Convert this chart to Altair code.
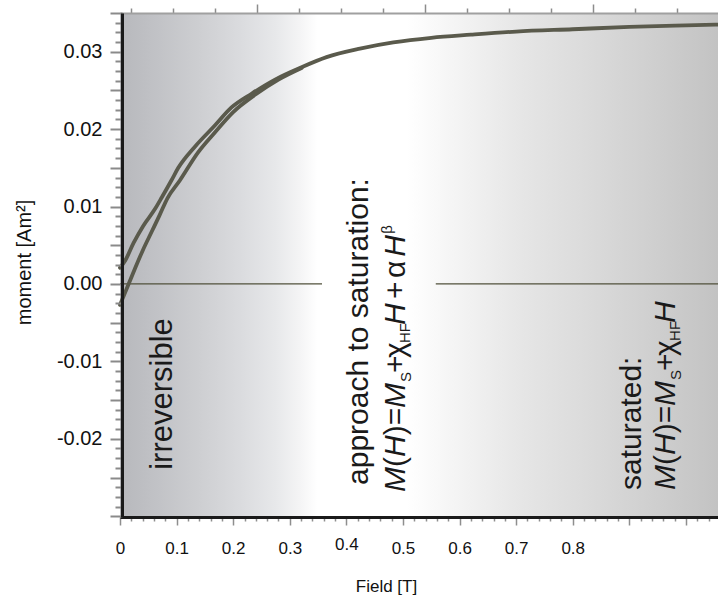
import altair as alt
import pandas as pd

# ---------------- data ----------------
# descending-field branch (upper) and ascending-field branch (lower)
field_upper = [0.0, 0.009, 0.024, 0.041, 0.062, 0.074, 0.091, 0.103, 0.132, 0.168,
               0.197, 0.233, 0.274, 0.321, 0.365, 0.424, 0.483, 0.55, 0.62, 0.70,
               0.80, 0.90, 1.0, 1.0567]
moment_upper = [0.0021, 0.0030, 0.0053, 0.0075, 0.0097, 0.0112, 0.0134, 0.0150, 0.0177, 0.0205,
                0.0228, 0.0246, 0.0264, 0.0280, 0.0293, 0.0304, 0.0312, 0.0318, 0.0322, 0.0326,
                0.0329, 0.0332, 0.0334, 0.0335]
field_lower = [0.0, 0.0147, 0.0265, 0.040, 0.057, 0.070, 0.084, 0.106, 0.138, 0.168,
               0.200, 0.240, 0.280, 0.321]
moment_lower = [-0.0027, -0.0001, 0.0020, 0.0043, 0.0069, 0.0089, 0.0111, 0.0134, 0.0170, 0.0196,
                0.0222, 0.0245, 0.0264, 0.0279]

x_domain = [0.0, 1.0567]
y_domain = [-0.0301, 0.0350]

# zero reference line, interrupted behind the middle annotation
zero_start = [0.0, 0.558]
zero_end = [0.357, 1.0567]

x_ticks = [round(i * 0.02, 2) for i in range(53)]
y_ticks = [round(-0.03 + i * 0.00125, 5) for i in range(53)]
top_ticks = [-0.75 + 0.25 * i for i in range(14)]
top_domain = [-0.8174, 2.743]

# annotation segments: text, field position, moment position, role
ann_text = ["irreversible",
            "approach to saturation:",
            "M", "(", "H", ")=", "M", "S", "+", "χ", "HF", "H", "+", "α", "H", "β",
            "saturated:",
            "M", "(", "H", ")=", "M", "S", "+", "χ", "HF", "H"]
ann_field = [0.0914,
             0.4382,
             0.5036, 0.5036, 0.5036, 0.5036, 0.5036, 0.5142, 0.5036, 0.5036, 0.5124, 0.5036, 0.5036, 0.5036, 0.5036, 0.4806,
             0.9207,
             0.9807, 0.9807, 0.9807, 0.9807, 0.9807, 0.9913, 0.9807, 0.9807, 0.9895, 0.9807]
ann_moment = [-0.02400,
              -0.02596,
              -0.02687, -0.02364, -0.02235, -0.01955, -0.01602, -0.01266, -0.01150, -0.00956, -0.00762, -0.00530, -0.00194, 0.00077, 0.00350, 0.00648,
              -0.02661,
              -0.02661, -0.02338, -0.02209, -0.01929, -0.01576, -0.01240, -0.01124, -0.00930, -0.00736, -0.00504]
ann_role = ["big",
            "text",
            "ital", "text", "ital", "text", "ital", "small", "text", "text", "small", "ital", "text", "text", "ital", "small",
            "text",
            "ital", "text", "ital", "text", "ital", "small", "text", "text", "small", "ital"]

# ---------------- tables ----------------
curve_df = pd.DataFrame({
    "H": field_upper + field_lower,
    "m": moment_upper + moment_lower,
    "branch": ["upper"] * len(field_upper) + ["lower"] * len(field_lower),
    "idx": list(range(len(field_upper))) + list(range(len(field_lower))),
})
bg_df = pd.DataFrame({"x0": [x_domain[0]], "x1": [x_domain[1]], "y0": [y_domain[0]], "y1": [y_domain[1]]})
zero_df = pd.DataFrame({"x0": zero_start, "x1": zero_end, "y0": [0.0, 0.0]})
role_size = {"text": 30, "big": 31, "ital": 30, "small": 15}
ann_df = pd.DataFrame({"text": ann_text, "H": ann_field, "m": ann_moment, "role": ann_role})
ann_df["size"] = ann_df["role"].map(role_size)
ann_up = ann_df[ann_df["role"] != "ital"]
ann_it = ann_df[ann_df["role"] == "ital"]
top_df = pd.DataFrame({"u": top_ticks})

# ---------------- axes and scales ----------------
xscale = alt.Scale(domain=x_domain, nice=False, zero=False)
yscale = alt.Scale(domain=y_domain, nice=False, zero=False)

x_axis = alt.Axis(
    values=x_ticks,
    labelExpr="(datum.value <= 0.85 && abs(datum.value*10 - round(datum.value*10)) < 1e-6) ? (datum.value == 0 ? '0' : format(datum.value, '.1f')) : ''",
    tickSize={"condition": {"test": "abs(datum.value*10 - round(datum.value*10)) < 1e-6", "value": 8}, "value": 4},
    labelPadding={"condition": {"test": "abs(datum.value - 0.4) < 1e-6", "value": 11}, "value": 15},
    tickColor="#8e8e8e", tickWidth=1.5,
    domainColor="#1a1a1a", domainWidth=3,
    labelFontSize=17, labelColor="#111111", labelFlush=False, labelOverlap=False,
    title="Field [T]", titleFontSize=17, titleFontWeight="normal", titleColor="#111111",
    titleX=266, titleY=74, titleAlign="center", titleBaseline="alphabetic",
    grid=False, zindex=1,
)
y_axis = alt.Axis(
    values=y_ticks,
    labelExpr="(datum.value > -0.025 && abs(datum.value*100 - round(datum.value*100)) < 1e-6) ? replace(format(datum.value, '.2f'), '−', '-') : ''",
    tickSize={"condition": {"test": "abs(datum.value*200 - round(datum.value*200)) < 1e-6", "value": 12}, "value": 7},
    tickColor="#8a8a8a", tickWidth=2,
    domainColor="#1a1a1a", domainWidth=3, offset=-2,
    labelFontSize=20, labelColor="#111111", labelPadding=8, labelFlush=False, labelOverlap=False,
    title="moment [Am²]", titleFontSize=20, titleFontWeight="normal", titleColor="#111111",
    titleAngle=270, titleX=-92, titleY=249, titleAlign="center", titleBaseline="alphabetic",
    grid=False, zindex=1,
)
top_axis = alt.Axis(
    orient="top", values=top_ticks, labels=False, title=None,
    tickSize={"condition": {"test": "abs(datum.value - round(datum.value)) < 1e-6", "value": 9}, "value": 5},
    tickColor="#8c8c8c", tickWidth=1.5, domainColor="#a0a0a0", domainWidth=2,
    grid=False, zindex=1,
)

def X(field, **kw):
    return alt.X(field, type="quantitative", scale=xscale, axis=x_axis, **kw)

def Y(field):
    return alt.Y(field, type="quantitative", scale=yscale, axis=y_axis)

gradient = alt.Gradient(
    gradient="linear", x1=0, x2=1, y1=0, y2=0,
    stops=[
        alt.GradientStop(offset=0.00, color="#b7b8bc"),
        alt.GradientStop(offset=0.06, color="#c1c2c6"),
        alt.GradientStop(offset=0.13, color="#cdced1"),
        alt.GradientStop(offset=0.20, color="#dadbde"),
        alt.GradientStop(offset=0.26, color="#e7e8ea"),
        alt.GradientStop(offset=0.30, color="#f4f4f5"),
        alt.GradientStop(offset=0.33, color="#ffffff"),
        alt.GradientStop(offset=0.48, color="#ffffff"),
        alt.GradientStop(offset=0.57, color="#f3f3f3"),
        alt.GradientStop(offset=0.67, color="#e6e6e6"),
        alt.GradientStop(offset=0.80, color="#d9d9d9"),
        alt.GradientStop(offset=0.91, color="#cdcdcd"),
        alt.GradientStop(offset=1.00, color="#c3c3c3"),
    ],
)

bg = alt.Chart(bg_df).mark_rect(fill=gradient, stroke=None).encode(
    x=X("x0"), x2="x1", y=Y("y0"), y2="y1"
)
zero = alt.Chart(zero_df).mark_rule(color="#50503b", strokeWidth=1.2).encode(
    x=X("x0"), x2="x1", y=Y("y0")
)
curve = alt.Chart(curve_df).mark_line(
    color="#5a5a4c", strokeWidth=3.8, strokeJoin="round", strokeCap="round", interpolate="monotone"
).encode(x=X("H"), y=Y("m"), detail="branch:N", order="idx:Q")

txt_up = alt.Chart(ann_up).mark_text(
    angle=270, align="left", baseline="alphabetic", color="#1a1a1a"
).encode(x=X("H"), y=Y("m"), text="text:N", size=alt.Size("size:Q", scale=None))
txt_it = alt.Chart(ann_it).mark_text(
    angle=270, align="left", baseline="alphabetic", color="#1a1a1a", fontStyle="italic"
).encode(x=X("H"), y=Y("m"), text="text:N", size=alt.Size("size:Q", scale=None))

main = alt.layer(bg, zero, curve, txt_up, txt_it)

top = alt.Chart(top_df).mark_point(opacity=0).encode(
    x=alt.X("u:Q", scale=alt.Scale(domain=top_domain, nice=False, zero=False), axis=top_axis)
)

chart = alt.layer(main, top).resolve_scale(x="independent").properties(
    width=598, height=504,
    padding={"left": 120, "top": 13, "right": 0, "bottom": 80},
    autosize=alt.AutoSizeParams(type="none"),
).configure(font="Liberation Sans").configure_view(stroke=None)

chart.save("out.html", embed_options={"renderer": "svg", "actions": False})
